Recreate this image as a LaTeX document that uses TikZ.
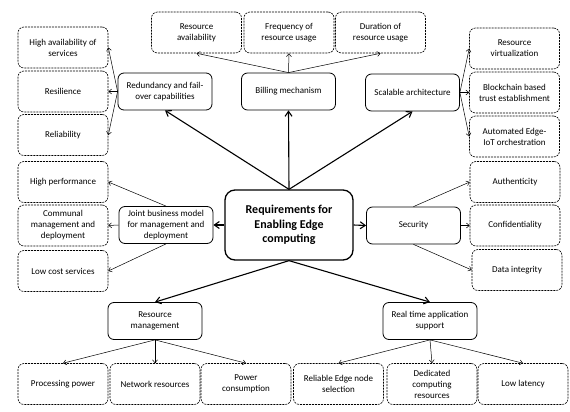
\documentclass[tikz,border=0pt]{standalone}
\usepackage{fontspec}
\setmainfont{Carlito}
\usetikzlibrary{arrows.meta}
\newcommand{\topic}[3]{%
 \node[topic] ({#1}) at ({#2}) {#3} %
}
\newcommand{\leaf}[3]{%
 \node[leaf] ({#1}) at ({#2}) {#3} %
}
\begin{document}
\begin{tikzpicture}[x=1pt,y=-1pt,
  every node/.style={font=\fontsize{9}{11}\selectfont,align=center,inner sep=1pt},
  topic/.style={draw,line width=0.8pt,rounded corners=6pt,minimum width=94pt,minimum height=37pt},
  leaf/.style={draw,line width=0.6pt,dash pattern=on 2pt off 1pt,rounded corners=6pt,minimum width=90pt,minimum height=41pt},
  main/.style={-{Straight Barb[length=5pt,width=7pt]},line width=1.1pt},
  sub/.style={-{Straight Barb[length=3pt,width=5pt]},line width=0.5pt}]
  \useasboundingbox (0,0) rectangle (570,412);
  \node[draw,line width=1.3pt,rounded corners=10pt,minimum width=128pt,minimum height=70pt,
    font=\bfseries\fontsize{12}{14.5}\selectfont] (req) at (289,225) {Requirements for\\Enabling Edge\\computing};
  \topic{red}{165,91.5}{Redundancy and fail-\\over capabilities};
  \topic{bill}{288.5,91.5}{Billing mechanism};
  \topic{scal}{412.5,92.5}{Scalable architecture};
  \topic{joint}{166,225}{Joint business model\\for management and\\deployment};
  \topic{sec}{413.5,225.5}{Security};
  \topic{rm}{155,321}{Resource\\management};
  \topic{rt}{430,321}{Real time application\\support};
  \leaf{hav}{63,47.5}{High availability of\\services};
  \leaf{resil}{63,91.5}{Resilience};
  \leaf{relia}{63,135}{Reliability};
  \leaf{resav}{196.5,32.5}{Resource\\availability};
  \leaf{freq}{289,32.5}{Frequency of\\resource usage};
  \leaf{dur}{380.5,32.5}{Duration of\\resource usage};
  \leaf{virt}{514.5,48.5}{Resource\\virtualization};
  \leaf{block}{514.5,92.5}{Blockchain based\\trust establishment};
  \leaf{auto}{514.5,136.5}{Automated Edge-\\IoT orchestration};
  \leaf{hperf}{63,182}{High performance};
  \leaf{comm}{63,225.5}{Communal\\management and\\deployment};
  \leaf{low}{63,271}{Low cost services};
  \leaf{auth}{515,182}{Authenticity};
  \leaf{conf}{515,225.5}{Confidentiality};
  \leaf{dint}{517,270}{Data integrity};
  \leaf{proc}{63,384}{Processing power};
  \leaf{net}{155,384}{Network resources};
  \leaf{pow}{246,384}{Power\\consumption};
  \leaf{rel}{338.5,384}{Reliable Edge node\\selection};
  \leaf{ded}{432,384}{Dedicated\\computing\\resources};
  \leaf{lat}{523,384}{Low latency};
  % main branches
  \draw[main] (req.north) -- (red.south);
  \draw[main] (req.north) -- (bill.south);
  \draw[main] (req.north) -- (scal.south);
  \draw[main] (req.west) -- (joint.east);
  \draw[main] (req.east) -- (sec.west);
  \draw[main] (req.south) -- (rm.north);
  \draw[main] (req.south) -- (rt.north);
  % sub branches
  \draw[sub] (red.west) -- (hav.east);
  \draw[sub] (red.west) -- (resil.east);
  \draw[sub] (red.west) -- (relia.east);
  \draw[sub] (bill.north) -- (resav.south);
  \draw[sub] (bill.north) -- (freq.south);
  \draw[sub] (bill.north) -- (dur.south);
  \draw[sub] (scal.east) -- (virt.west);
  \draw[sub] (scal.east) -- (block.west);
  \draw[sub] (scal.east) -- (auto.west);
  \draw[sub] (joint.north) -- (hperf.east);
  \draw[sub] (joint.west) -- (comm.east);
  \draw[sub] (joint.south) -- (low.east);
  \draw[sub] (sec.north) -- (auth.west);
  \draw[sub] (sec.east) -- (conf.west);
  \draw[sub] (sec.south) -- (dint.west);
  \draw[sub] (rm.south) -- (proc.north);
  \draw[sub] (rm.south) -- (net.north);
  \draw[sub] (rm.south) -- (pow.north);
  \draw[sub] (rt.south) -- (rel.north);
  \draw[sub] (rt.south) -- (ded.north);
  \draw[sub] (rt.south) -- (lat.north);
\end{tikzpicture}
\end{document}
